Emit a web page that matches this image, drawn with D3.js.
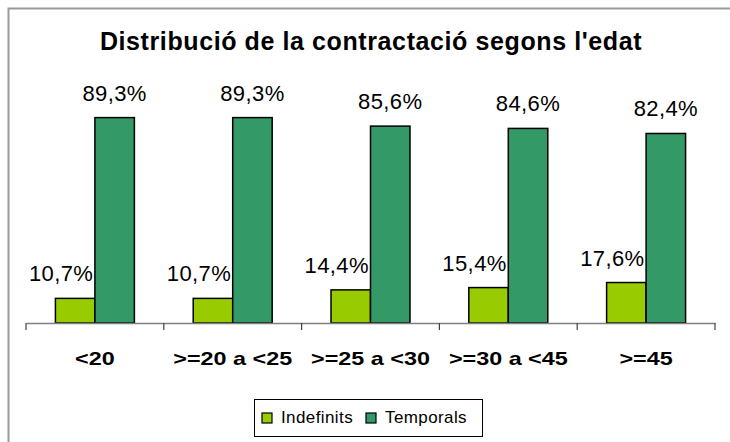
<!DOCTYPE html>
<html>
<head>
<meta charset="utf-8">
<script src="https://cdn.jsdelivr.net/npm/d3@7"></script>
<style>
  body { margin: 0; background: #fff; }
  text { font-family: "Liberation Sans", Arial, sans-serif; fill: #000; }
</style>
</head>
<body>
<div id="chart"></div>
<script>
// categories and series
var categories = ["<20", ">=20 a <25", ">=25 a <30", ">=30 a <45", ">=45"];
var series = ["Indefinits", "Temporals"];
var indefinits = [10.7, 10.7, 14.4, 15.4, 17.6];
var temporals = [89.3, 89.3, 85.6, 84.6, 82.4];
var colors = ["#99cc00", "#339966"];

var width = 730, height = 442;
var fmt = function(v) { return v.toFixed(1).replace(".", ",") + "%"; };

var svg = d3.select("#chart").append("svg")
  .attr("width", width)
  .attr("height", height);

// outer chart frame (cropped on right and bottom)
svg.append("rect")
  .attr("x", 8.5).attr("y", 8.5)
  .attr("width", 740).attr("height", 450)
  .style("fill", "none")
  .style("stroke", "#9a9a9a")
  .style("stroke-width", 2);

// title
svg.append("text")
  .attr("x", 371).attr("y", 50)
  .attr("text-anchor", "middle")
  .style("font-size", "25px")
  .style("font-weight", "bold")
  .style("letter-spacing", "0.6px")
  .text("Distribució de la contractació segons l'edat");

// scales
var x = d3.scaleBand().domain(categories).range([26, 715]).padding(0);
var xSub = d3.scaleBand().domain(series).range([0, x.bandwidth()]).paddingInner(0).paddingOuter(0.745);
var y = d3.scaleLinear().domain([0, 100]).range([323, 93]);

var rows = categories.map(function(c, i) {
  return { cat: c, values: [indefinits[i], temporals[i]] };
});

var groups = svg.selectAll("g.group")
  .data(rows)
  .enter().append("g")
  .attr("class", "group")
  .attr("transform", function(d) { return "translate(" + x(d.cat) + ",0)"; });

groups.selectAll("rect")
  .data(function(d) { return d.values.map(function(v, j) { return { s: series[j], v: v, j: j }; }); })
  .enter().append("rect")
  .attr("x", function(d) { return xSub(d.s); })
  .attr("y", function(d) { return y(d.v); })
  .attr("width", xSub.bandwidth())
  .attr("height", function(d) { return y(0) - y(d.v); })
  .style("fill", function(d) { return colors[d.j]; })
  .style("stroke", "#000")
  .style("stroke-width", 1.5);

// value labels
groups.selectAll("text.val")
  .data(function(d) { return d.values.map(function(v, j) { return { s: series[j], v: v, j: j }; }); })
  .enter().append("text")
  .attr("class", "val")
  .attr("x", function(d) { return xSub(d.s) + xSub.bandwidth() / 2 + (d.j === 0 ? -14 : 0); })
  .attr("y", function(d) { return y(d.v) - 17; })
  .attr("text-anchor", "middle")
  .style("font-size", "22px")
  .style("letter-spacing", "0.4px")
  .text(function(d) { return fmt(d.v); });

// x axis
var xAxis = svg.append("g")
  .attr("transform", "translate(0," + y(0) + ")")
  .call(d3.axisBottom(x).tickSize(0).tickFormat(""));
xAxis.select(".domain").style("stroke", "#808080").style("stroke-width", 1.5);

// tick marks at category boundaries
var bounds = categories.map(function(c) { return x(c); }).concat([x.range()[1]]);
svg.selectAll("line.tick")
  .data(bounds)
  .enter().append("line")
  .attr("class", "tick")
  .attr("x1", function(d) { return d; }).attr("x2", function(d) { return d; })
  .attr("y1", y(0)).attr("y2", y(0) + 7)
  .style("stroke", "#404040")
  .style("stroke-width", 1.2);

// category labels (wide rendering, like the original)
svg.selectAll("text.cat")
  .data(categories)
  .enter().append("text")
  .attr("class", "cat")
  .attr("transform", function(d) { return "translate(" + (x(d) + x.bandwidth() / 2) + ",365) scale(1.23,1)"; })
  .attr("text-anchor", "middle")
  .style("font-size", "19px")
  .style("font-weight", "bold")
  .style("white-space", "pre")
  .text(function(d) { return d; });

// legend
var legend = svg.append("g");
legend.append("rect")
  .attr("x", 254.5).attr("y", 399.5)
  .attr("width", 228).attr("height", 37)
  .style("fill", "#fff")
  .style("stroke", "#000")
  .style("stroke-width", 1);
var legX = [262, 366];
series.forEach(function(s, i) {
  legend.append("rect")
    .attr("x", legX[i]).attr("y", 413)
    .attr("width", 10).attr("height", 10)
    .style("fill", colors[i])
    .style("stroke", "#000")
    .style("stroke-width", 1.2);
  legend.append("text")
    .attr("x", legX[i] + 19).attr("y", 423)
    .style("font-size", "17px")
    .style("letter-spacing", "0.4px")
    .text(s);
});
</script>
</body>
</html>
